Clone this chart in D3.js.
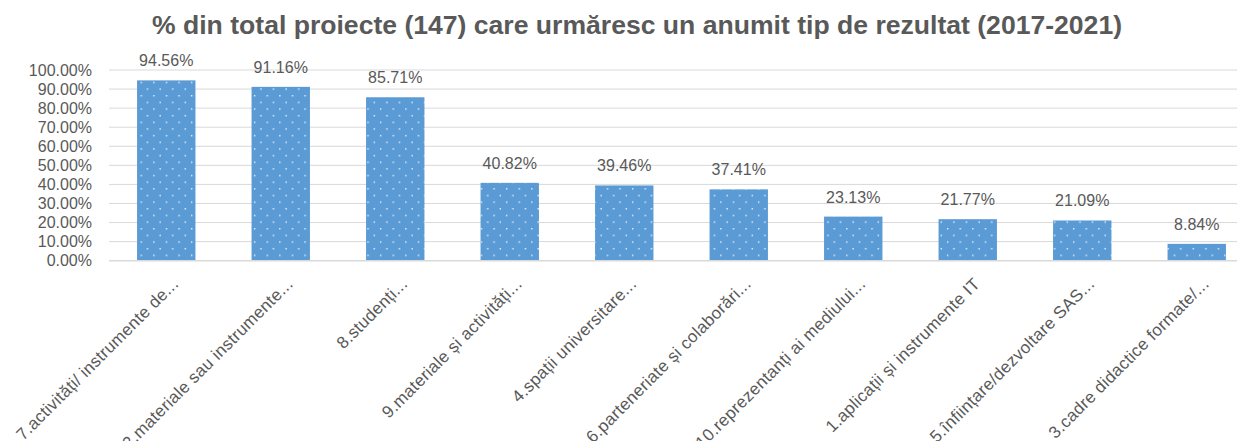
<!DOCTYPE html>
<html><head><meta charset="utf-8">
<script src="https://cdn.jsdelivr.net/npm/d3@7/dist/d3.min.js"></script>
<style>body{margin:0;background:#fff}svg{display:block}</style>
</head><body>
<svg id="c" width="1242" height="441"></svg>
<script>
const title = "% din total proiecte (147) care urmăresc un anumit tip de rezultat (2017-2021)";
const categories = [
  "7.activități/ instrumente de...",
  "2.materiale sau instrumente...",
  "8.studenți...",
  "9.materiale și activități...",
  "4.spații universitare...",
  "6.parteneriate și colaborări...",
  "10.reprezentanți ai mediului...",
  "1.aplicații și instrumente IT",
  "5.înființare/dezvoltare SAS...",
  "3.cadre didactice formate/..."
];
const values = [94.56, 91.16, 85.71, 40.82, 39.46, 37.41, 23.13, 21.77, 21.09, 8.84];
const yTicks = [0, 10, 20, 30, 40, 50, 60, 70, 80, 90, 100];

const svg = d3.select("#c");
const font = "'Liberation Sans', Arial, sans-serif";
const textCol = "#595959";

const defs = svg.append("defs");
const pat = defs.append("pattern").attr("id","dots").attr("patternUnits","userSpaceOnUse")
  .attr("width",12.6).attr("height",13.3);
pat.append("rect").attr("width",12.6).attr("height",13.3).attr("fill","#5b9bd5");
pat.append("rect").attr("x",2).attr("y",2).attr("width",1.3).attr("height",1.3).attr("fill","#fff");
pat.append("rect").attr("x",8.3).attr("y",8.65).attr("width",1.3).attr("height",1.3).attr("fill","#fff");

const x = d3.scaleBand().domain(categories).range([109, 1254]).paddingInner(0.49).paddingOuter(0.245);
const y = d3.scaleLinear().domain([0, 100]).range([260.7, 70]);
const gridRight = 1237;

// gridlines
svg.append("g").selectAll("line").data(yTicks.filter(d=>d>0)).join("line")
  .attr("x1",109).attr("x2",gridRight).attr("y1",d=>y(d)).attr("y2",d=>y(d))
  .attr("stroke","#d9d9d9").attr("stroke-width",1);

// y axis
const yAxis = d3.axisLeft(y).tickValues(yTicks).tickFormat(d=>d.toFixed(2)+"%").tickSize(0).tickPadding(0);
const gy = svg.append("g").attr("transform","translate(92,0)").call(yAxis);
gy.select(".domain").remove();
gy.selectAll("text").attr("font-family",font).attr("font-size",16).attr("fill",textCol);

// bars
svg.append("g").selectAll("rect").data(values).join("rect")
  .attr("x",(d,i)=>x(categories[i])).attr("width",x.bandwidth())
  .attr("y",d=>y(d)).attr("height",d=>y(0)-y(d)).attr("fill","url(#dots)");

// baseline
svg.append("line").attr("x1",109).attr("x2",gridRight).attr("y1",y(0)).attr("y2",y(0))
  .attr("stroke","#d9d9d9").attr("stroke-width",1.5);

// data labels
svg.append("g").selectAll("text").data(values).join("text")
  .attr("x",(d,i)=>x(categories[i])+x.bandwidth()/2).attr("y",d=>y(d)-14)
  .attr("text-anchor","middle").attr("font-family",font).attr("font-size",16).attr("fill",textCol)
  .text(d=>d.toFixed(2)+"%");

// x labels
const xAxis = d3.axisBottom(x).tickSize(0).tickPadding(0);
const gx = svg.append("g").attr("transform",`translate(0,${y(0)})`).call(xAxis);
gx.select(".domain").remove();
gx.selectAll("text")
  .attr("font-family",font).attr("font-size",17).attr("letter-spacing","0.3px").attr("fill",textCol)
  .attr("text-anchor","end").attr("dy","0.35em").attr("y",0)
  .attr("transform","translate(9,20) rotate(-45)");

// title
svg.append("text").attr("x",637).attr("y",34).attr("text-anchor","middle")
  .attr("font-family",font).attr("font-weight","bold").attr("font-size",25).attr("fill",textCol)
  .attr("textLength",970).attr("lengthAdjust","spacingAndGlyphs").text(title);
</script>
</body></html>
